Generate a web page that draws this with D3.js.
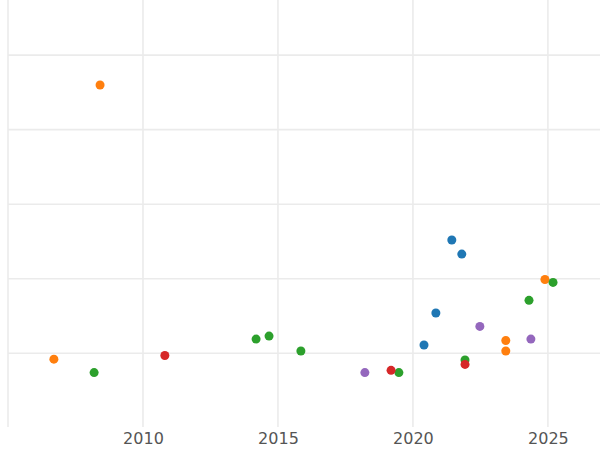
<!DOCTYPE html>
<html><head><meta charset="utf-8">
<script src="https://cdn.jsdelivr.net/npm/d3@7"></script>
<style>body{margin:0;background:#fff}</style>
</head><body>
<svg id="chart" width="600" height="450"></svg>
<script>
const seriesNames = ['blue', 'orange', 'green', 'red', 'purple'];
const colors = ['#1f77b4', '#ff7f0e', '#2ca02c', '#d62728', '#9467bd'];
const blueX = [2021.44, 2021.81, 2020.85, 2020.41];
const blueY = [1.52, 1.33, 0.54, 0.11];
const orangeX = [2008.41, 2006.70, 2024.89, 2023.44, 2023.44];
const orangeY = [3.60, -0.08, 0.99, 0.17, 0.03];
const greenX = [2008.19, 2014.19, 2014.67, 2015.85, 2019.48, 2021.93, 2024.30, 2025.19];
const greenY = [-0.26, 0.19, 0.23, 0.03, -0.26, -0.09, 0.71, 0.95];
const redX = [2010.81, 2019.19, 2021.93];
const redY = [-0.03, -0.23, -0.15];
const purpleX = [2018.22, 2022.48, 2024.37];
const purpleY = [-0.26, 0.36, 0.19];
const xTicks = [2010, 2015, 2020, 2025];
const xGrid = [2005, 2010, 2015, 2020, 2025];
const yGrid = [0, 1, 2, 3, 4];

const series = [[blueX, blueY], [orangeX, orangeY], [greenX, greenY], [redX, redY], [purpleX, purpleY]];

const svg = d3.select('#chart');
const width = 600, height = 450;
const margin = { top: 0, right: 0, bottom: 23, left: 8 };

const x = d3.scaleLinear().domain([2005, 2026.93]).range([margin.left, width - margin.right]);
const y = d3.scaleLinear().domain([-0.99, 4.74]).range([height - margin.bottom, margin.top]);

// grid
svg.append('g').selectAll('line').data(yGrid).enter().append('line')
    .attr('x1', margin.left).attr('x2', width)
    .attr('y1', d => y(d)).attr('y2', d => y(d))
    .attr('stroke', '#ebebeb').attr('stroke-width', 1.6);
svg.append('g').selectAll('line').data(xGrid).enter().append('line')
    .attr('x1', d => x(d)).attr('x2', d => x(d))
    .attr('y1', 0).attr('y2', height - margin.bottom)
    .attr('stroke', '#ebebeb').attr('stroke-width', 1.6);

// x axis
const xAxis = svg.append('g')
    .attr('transform', `translate(0,${height - margin.bottom})`)
    .call(d3.axisBottom(x).tickValues(xTicks).tickFormat(d3.format('d')).tickSize(0).tickPadding(6));
xAxis.select('.domain').remove();
xAxis.selectAll('text').attr('font-family', 'DejaVu Sans').attr('font-size', 16).attr('fill', '#555');

// points
series.forEach(([xs, ys], i) => {
    svg.append('g').selectAll('circle').data(xs).enter().append('circle')
        .attr('cx', d => x(d))
        .attr('cy', (d, j) => y(ys[j]))
        .attr('r', 4.5)
        .attr('fill', colors[i]);
});
</script>
</body></html>
